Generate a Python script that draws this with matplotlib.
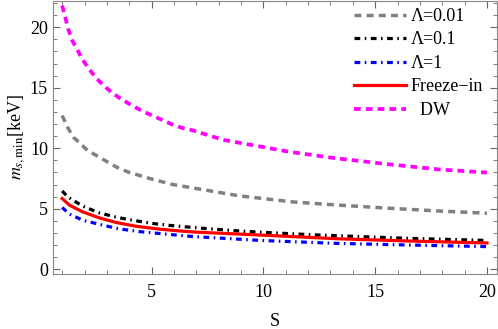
""" minimum scalar mass vs S """

import matplotlib
matplotlib.use("Agg")
import matplotlib.pyplot as plt
from matplotlib.ticker import MultipleLocator

plt.rcParams['font.family'] = ['Liberation Serif', 'DejaVu Serif']
plt.rcParams['mathtext.fontset'] = 'stix'

# values
S_dw = [1.0, 1.28, 1.45, 1.69, 1.92, 2.22, 2.52, 2.85, 3.22, 3.61, 4.06, 4.46,
        4.91, 5.40, 5.88, 6.33, 6.8, 8.19, 9.68, 11.18, 13.12, 15.58, 17.9, 20.0]
m_dw = [21.8, 19.8, 18.9, 18.1, 17.3, 16.5, 15.8, 15.2, 14.6, 14.1, 13.6, 13.2,
        12.8, 12.4, 12.0, 11.7, 11.5, 10.7, 10.2, 9.7, 9.2, 8.68, 8.24, 7.99]

S_001 = [1.0, 1.25, 1.51, 2.13, 3.42, 3.94, 4.91, 5.95, 7.0, 8.94, 11.33,
         13.27, 15.36, 17.75, 20.0]
m_001 = [12.7, 11.7, 10.9, 9.83, 8.45, 8.04, 7.5, 7.0, 6.67, 6.06, 5.56,
         5.31, 5.07, 4.82, 4.63]

S_01 = [1.0, 1.25, 1.92, 2.67, 3.49, 4.31, 5.06, 5.88, 6.85, 7.45, 9.09,
        10.73, 12.30, 13.87, 16.33, 20.0]
m_01 = [6.47, 5.98, 5.21, 4.65, 4.27, 4.0, 3.78, 3.61, 3.45, 3.36, 3.14,
        2.98, 2.84, 2.73, 2.56, 2.38]

S_1 = [1.0, 1.33, 1.92, 2.82, 3.57, 4.46, 5.36, 6.85, 9.98, 13.2, 16.5, 20.0]
m_1 = [5.1, 4.55, 4.05, 3.64, 3.33, 3.11, 2.95, 2.70, 2.37, 2.14, 2.0, 1.87]

S_fi = [1.0, 1.33, 1.92, 2.67, 3.42, 4.31, 5.36, 6.40, 7.07, 9.68, 13.3,
        16.5, 20.0]
m_fi = [5.84, 5.29, 4.74, 4.24, 3.86, 3.55, 3.31, 3.14, 3.06, 2.84, 2.52,
        2.33, 2.17]

fig = plt.figure(figsize=(4.98, 3.29), dpi=100)
ax = fig.add_axes([0.106, 0.167, 0.892, 0.831])

ax.plot(S_001, m_001, color='gray', lw=2.5, dashes=(2.0, 1.5), label='Λ=0.01')
ax.plot(S_01, m_01, color='black', lw=2.3, dashes=(1.8, 1.4, 0.5, 1.4), label='Λ=0.1')
ax.plot(S_1, m_1, color='blue', lw=2.3, dashes=(1.8, 1.4, 0.5, 1.4), label='Λ=1')
ax.plot(S_fi, m_fi, color='red', lw=2.3, label='Freeze−in')
ax.plot(S_dw, m_dw, color='magenta', lw=2.7, dashes=(1.8, 1.35), label='  DW')

ax.set_xlim(0.58, 20.45)
ax.set_ylim(-0.4, 22.2)
ax.xaxis.set_major_locator(MultipleLocator(5))
ax.xaxis.set_minor_locator(MultipleLocator(1))
ax.yaxis.set_major_locator(MultipleLocator(5))
ax.yaxis.set_minor_locator(MultipleLocator(1))
ax.tick_params(which='both', direction='in', top=True, right=True,
               color='#666666', labelsize=13)
ax.tick_params(axis='x', which='major', pad=7)
ax.tick_params(which='major', length=5)
ax.tick_params(which='minor', length=3)
for sp in ax.spines.values():
    sp.set_color('#888888')

ax.set_xlabel('S', fontsize=13, labelpad=9)
ax.set_ylabel(r'$m_{s,\mathrm{min}}$[keV]', fontsize=13, labelpad=2)

leg = ax.legend(loc='upper right', frameon=False, fontsize=13,
                handlelength=2.9, handletextpad=0.25, labelspacing=0.36,
                borderaxespad=0.0, bbox_to_anchor=(0.985, 1.0))

fig.savefig('out.png', dpi=100)
